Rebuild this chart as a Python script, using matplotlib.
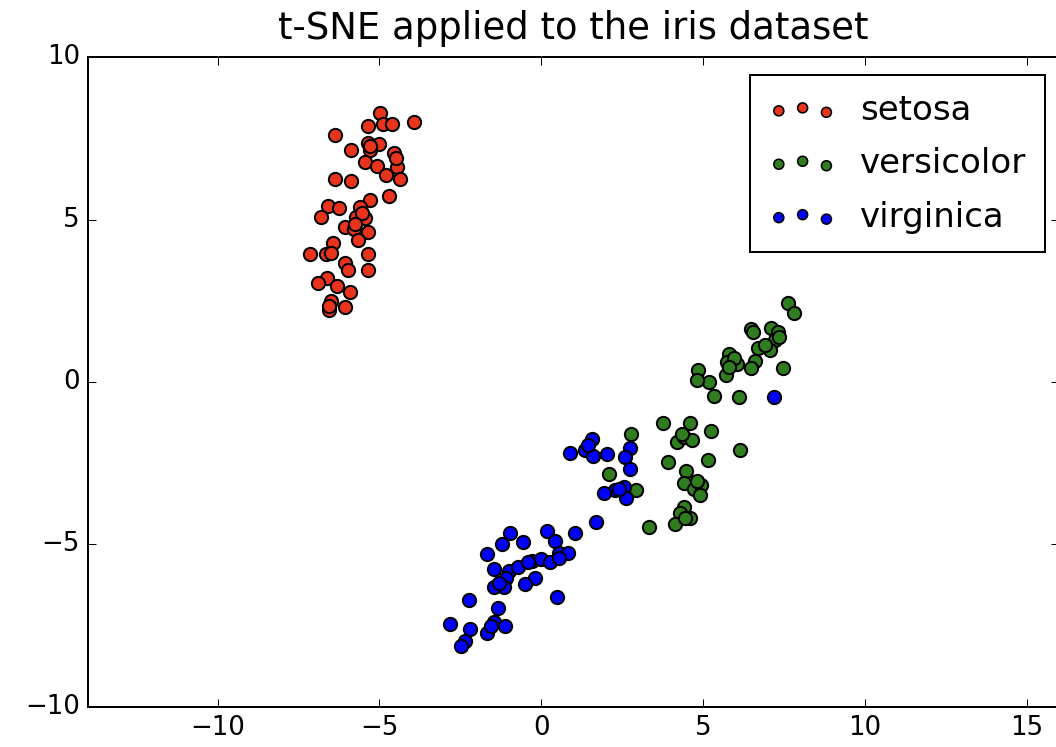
import numpy as np
import matplotlib
matplotlib.use("Agg")
import matplotlib.pyplot as plt

# t-SNE embedding coordinates
setosa_x = [-4.97, -5.35, -4.89, -4.61, -3.94, -6.38, -5.35, -5.02, -5.87, -5.28,
            -4.56, -5.43, -5.09, -4.45, -4.81, -4.37, -6.38, -5.87, -4.71, -5.28,
            -6.58, -6.26, -5.61, -6.79, -5.73, -5.46, -6.07, -5.79, -5.36, -5.66,
            -6.44, -7.15, -6.64, -6.48, -5.36, -6.05, -5.98, -5.36, -6.61, -6.89,
            -6.31, -5.92, -6.51, -6.56, -6.05, -5.30, -4.50, -5.55, -5.75, -6.55]
setosa_y = [8.27, 7.88, 7.93, 7.93, 7.99, 7.60, 7.36, 7.34, 7.14, 7.14,
            7.04, 6.78, 6.65, 6.62, 6.37, 6.24, 6.24, 6.19, 5.72, 5.60,
            5.42, 5.34, 5.39, 5.09, 5.09, 5.04, 4.78, 4.70, 4.62, 4.37,
            4.27, 3.93, 3.93, 3.97, 3.94, 3.67, 3.45, 3.45, 3.19, 3.04,
            2.95, 2.77, 2.50, 2.22, 2.30, 7.25, 6.90, 5.20, 4.85, 2.35]

versicolor_x = [2.78, 2.10, 2.93, 3.31, 3.76, 4.60, 5.25, 4.19, 4.39, 4.65,
                6.14, 3.90, 5.16, 4.48, 4.39, 4.70, 4.94, 4.91, 4.39, 4.27,
                4.58, 4.14, 7.63, 7.79, 6.47, 7.09, 7.32, 7.22, 6.68, 7.07,
                5.78, 5.73, 6.04, 6.60, 6.48, 4.85, 5.71, 7.46, 5.19, 4.81,
                5.32, 6.09, 7.35, 6.90, 5.95, 4.80, 4.35, 4.45, 6.55, 5.80]
versicolor_y = [-1.61, -2.83, -3.32, -4.47, -1.25, -1.25, -1.51, -1.84, -1.70, -1.78,
                -2.09, -2.47, -2.40, -2.73, -3.12, -3.30, -3.17, -3.48, -3.84, -4.04,
                -4.19, -4.37, 2.42, 2.13, 1.63, 1.67, 1.53, 1.29, 1.06, 0.98,
                0.85, 0.62, 0.55, 0.65, 0.42, 0.37, 0.22, 0.42, 0.01, 0.06,
                -0.42, -0.47, 1.40, 1.15, 0.75, -3.05, -1.60, -4.20, 1.55, 0.45]

virginica_x = [1.56, 1.36, 0.87, 1.58, 2.03, 2.73, 2.59, 2.73, 2.26, 2.54,
               1.95, 2.61, 1.70, 1.05, 0.19, 0.41, -0.96, -1.21, -0.56, -1.68,
               0.53, 0.82, -0.29, 0.00, 0.26, -1.47, -1.01, -0.72, -1.09, -0.19,
               -0.52, -1.47, -1.16, 0.48, -2.24, -1.34, -2.81, -1.47, -1.13, -2.19,
               -1.68, -2.35, -2.47, 7.19, 0.56, -1.30, -0.40, 2.40, -1.55, 1.45]
virginica_y = [-1.75, -2.09, -2.19, -2.27, -2.22, -2.02, -2.30, -2.68, -3.32, -3.22,
               -3.42, -3.58, -4.32, -4.66, -4.58, -4.88, -4.66, -4.99, -4.93, -5.30,
               -5.25, -5.25, -5.51, -5.46, -5.53, -5.76, -5.82, -5.70, -6.04, -6.02,
               -6.22, -6.30, -6.32, -6.61, -6.71, -6.96, -7.45, -7.38, -7.51, -7.61,
               -7.73, -7.97, -8.12, -0.47, -5.43, -6.20, -5.55, -3.30, -7.50, -1.95]

names = ["setosa", "versicolor", "virginica"]
colors = ["#e8341c", "#2f7d1f", "#0000ff"]

plt.style.use("classic")
plt.rcParams["xtick.labelsize"] = 13
plt.rcParams["ytick.labelsize"] = 13
fig = plt.figure(figsize=(1056 / 144, 747 / 144), dpi=144)
ax = fig.add_axes([0.0833, 0.0536, 0.92, 0.870])

groups = [(setosa_x, setosa_y), (versicolor_x, versicolor_y), (virginica_x, virginica_y)]
for (gx, gy), name, c in zip(groups, names, colors):
    ax.scatter(gx, gy, s=44, c=c, edgecolors="black", linewidths=1.0, label=name)

ax.set_xlim(-14, 16)
ax.set_ylim(-10, 10)
ax.set_title("t-SNE applied to the iris dataset", fontsize=18.5, pad=9)
leg = ax.legend(loc="upper right", scatterpoints=3, fontsize=17, markerscale=0.75,
                labelspacing=0.6, borderpad=0.55, handletextpad=0.7,
                borderaxespad=0, bbox_to_anchor=(0.9856, 0.9723))
for h in leg.legend_handles:
    h.set_linewidth(0.8)

fig.savefig("out.png", dpi=144)
